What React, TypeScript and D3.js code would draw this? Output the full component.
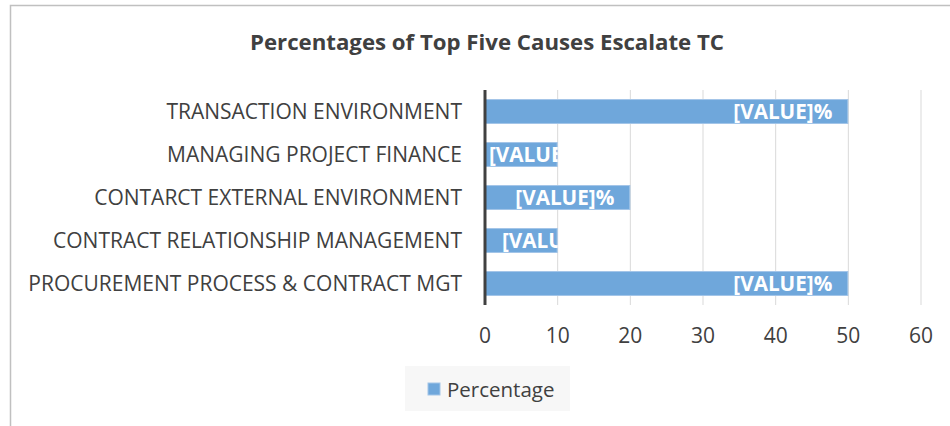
import React, { useEffect } from "react";
import * as d3 from "d3";

const categories = [
  "TRANSACTION ENVIRONMENT",
  "MANAGING PROJECT FINANCE",
  "CONTARCT EXTERNAL ENVIRONMENT",
  "CONTRACT RELATIONSHIP MANAGEMENT",
  "PROCUREMENT PROCESS & CONTRACT MGT",
];
const values = [50, 10, 20, 10, 50];
const labelText = "[VALUE]%";
const xTicks = [0, 10, 20, 30, 40, 50, 60];
const seriesName = "Percentage";
const title = "Percentages of Top Five Causes Escalate TC";

const W = 950;
const H = 426;
const FONT = "'Open Sans', 'Noto Sans', sans-serif";

export default function App() {
  useEffect(() => {
    document.body.style.margin = "0";
  }, []);

  const x = d3.scaleLinear().domain([0, 60]).range([485, 921]);
  const y = d3.scaleBand<string>().domain(categories).range([90, 305]).paddingInner(0.42).paddingOuter(0.21);
  const barFill = "#6fa7db";
  const barStroke = "#a3c5e8";
  const textColor = "#404040";

  return (
    <svg width={W} height={H} style={{ position: "absolute", left: 0, top: 0, background: "#fff" }}>
      <defs>
        {values.map((v, i) => (
          <clipPath id={`clip${i}`} key={i}>
            <rect x={x(0)} y={y(categories[i])!} width={x(v) - x(0)} height={y.bandwidth()} />
          </clipPath>
        ))}
      </defs>
      <rect x={10.5} y={5.5} width={1000} height={1000} fill="#fff" stroke="#c0c0c0" strokeWidth={1.5} />
      <text x={250} y={50} fontFamily={FONT} fontWeight="bold" fontSize={22} fill={textColor} textLength={474} lengthAdjust="spacingAndGlyphs">
        {title}
      </text>
      {xTicks.map((t) => (
        <line key={t} x1={x(t)} x2={x(t)} y1={90} y2={305} stroke="#d9d9d9" strokeWidth={1} />
      ))}
      {values.map((v, i) => {
        const c = categories[i];
        const y0 = y(c)!;
        const bw = y.bandwidth();
        const x0 = x(0);
        const x1 = x(v);
        const tw = 99;
        const lx = Math.max(x0 + 4 + (i === 3 ? 13 : 0), x1 - 16 - tw);
        return (
          <g key={c}>
            <rect x={x0} y={y0 + 0.5} width={x1 - x0 - 0.5} height={bw - 1} fill={barFill} stroke={barStroke} strokeWidth={1} />
            <g clipPath={`url(#clip${i})`}>
              <text x={lx} y={y0 + bw / 2 + 7.5} fontFamily={FONT} fontWeight="bold" fontSize={21} fill="#ffffff" textLength={tw} lengthAdjust="spacingAndGlyphs">
                {labelText}
              </text>
            </g>
            <text x={462} y={y0 + bw / 2 + 7} textAnchor="end" fontFamily={FONT} fontSize={21} fill={textColor}>
              {c}
            </text>
          </g>
        );
      })}
      <line x1={x(0)} x2={x(0)} y1={90} y2={305} stroke="#404040" strokeWidth={3} />
      {xTicks.map((t) => (
        <text key={`l${t}`} x={x(t)} y={343} textAnchor="middle" fontFamily={FONT} fontSize={21} fill={textColor}>
          {t}
        </text>
      ))}
      <rect x={405} y={366} width={165} height={45} fill="#f7f7f7" />
      <rect x={428} y={383} width={12} height={12} fill={barFill} stroke={barStroke} strokeWidth={1} />
      <text x={447} y={397} fontFamily={FONT} fontSize={20.5} fill={textColor}>
        {seriesName}
      </text>
    </svg>
  );
}
